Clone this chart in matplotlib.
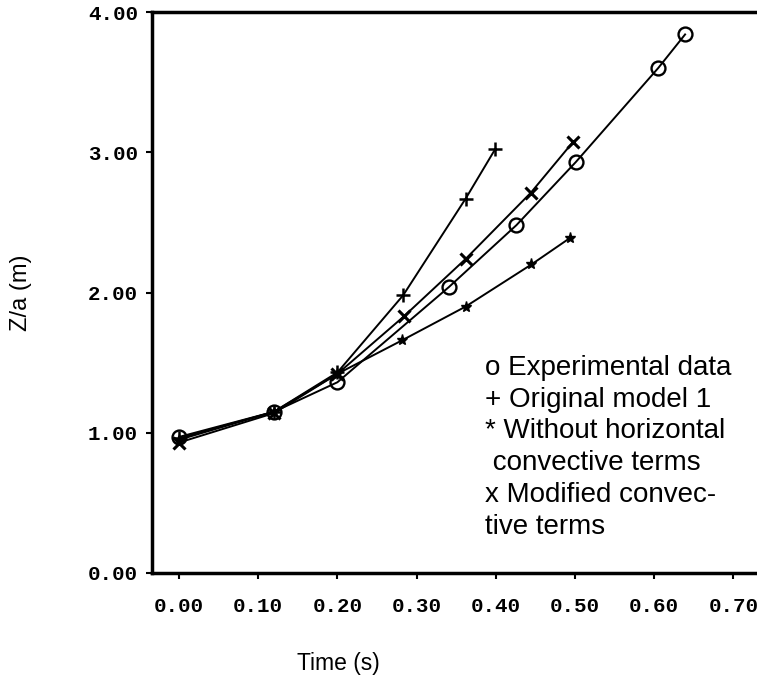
import matplotlib
matplotlib.use("Agg")
import matplotlib.pyplot as plt

# --- data ---
exp_t = [0.0, 0.12, 0.20, 0.341, 0.426, 0.501, 0.605, 0.639]
exp_z = [0.97, 1.15, 1.36, 2.04, 2.48, 2.93, 3.60, 3.84]

orig_t = [0.0, 0.12, 0.20, 0.283, 0.362, 0.399]
orig_z = [0.96, 1.15, 1.43, 1.98, 2.67, 3.02]

noconv_t = [0.0, 0.12, 0.20, 0.282, 0.362, 0.445, 0.494]
noconv_z = [0.95, 1.15, 1.42, 1.66, 1.90, 2.20, 2.39]

mod_t = [0.0, 0.12, 0.20, 0.284, 0.362, 0.444, 0.497]
mod_z = [0.93, 1.14, 1.42, 1.83, 2.24, 2.71, 3.07]

x_ticks = [0.0, 0.1, 0.2, 0.3, 0.4, 0.5, 0.6, 0.7]
y_ticks = [0.0, 1.0, 2.0, 3.0, 4.0]

legend_lines = [
    "o Experimental data",
    "+ Original model 1",
    "* Without horizontal",
    " convective terms",
    "x Modified convec-",
    "tive terms",
]

W, H = 757, 675
fig = plt.figure(figsize=(W / 100, H / 100), dpi=100)
ax = fig.add_axes([152 / W, (H - 573) / H, (W - 152) / W, (573 - 12) / H])

line_kw = dict(color="black", lw=1.4)
ax.plot(exp_t, exp_z, marker="o", ms=10, mfc="none", mew=1.7, **line_kw)
ax.plot(orig_t, orig_z, marker="+", ms=10, mew=1.8, **line_kw)
ax.plot(noconv_t, noconv_z, marker="*", ms=8, **line_kw)
ax.plot(mod_t, mod_z, marker="x", ms=8, mew=2.2, **line_kw)

ax.set_xlim(-0.0341, 0.7298)
ax.set_ylim(0, 4)
ax.set_xticks(x_ticks)
ax.set_yticks(y_ticks)
ax.set_xticklabels([f"{v:.2f}" for v in x_ticks])
ax.set_yticklabels([f"{v:.2f}" for v in y_ticks])

for lab in ax.get_xticklabels() + ax.get_yticklabels():
    lab.set_fontfamily("Liberation Mono")
    lab.set_fontweight("bold")
    lab.set_fontsize(15)
ax.tick_params(axis="both", direction="out", length=4, width=1.5, colors="black")
ax.tick_params(axis="x", pad=13)
ax.tick_params(axis="y", pad=6)

ax.spines["right"].set_visible(False)
for s in ["left", "top", "bottom"]:
    ax.spines[s].set_linewidth(2.5)

sans = "Liberation Sans"
ax.set_xlabel("Time (s)", family=sans, fontsize=16.5)
ax.xaxis.set_label_coords((338 - 152) / (W - 152), -0.141)
ax.set_ylabel("Z/a (m)", family=sans, fontsize=17)
ax.yaxis.set_label_coords((32 - 152) / (W - 152), 0.5)

for i, txt in enumerate(legend_lines):
    ax.text((485 - 152) / (W - 152), (573 - 368 - i * 31.7) / (573 - 12), txt,
            family=sans, fontsize=20, va="center", ha="left",
            transform=ax.transAxes)

fig.savefig("out.png", dpi=100, facecolor="white")
